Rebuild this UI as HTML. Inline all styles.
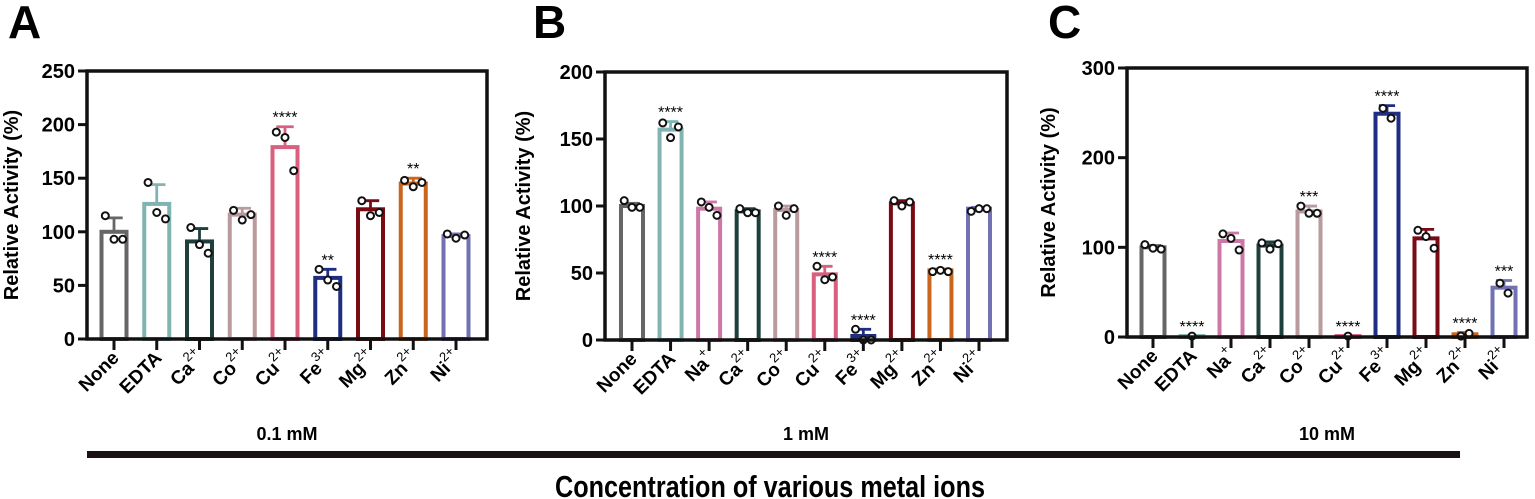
<!DOCTYPE html>
<html><head><meta charset="utf-8">
<style>
html,body{margin:0;padding:0;background:#fff;}
svg{display:block;font-family:"Liberation Sans",Arial,sans-serif;}
</style></head>
<body>
<svg id="fig" width="1535" height="499" viewBox="0 0 1535 499" xmlns="http://www.w3.org/2000/svg">
<g id="root"></g>
<rect x="87" y="451" width="1373" height="7" fill="#1a1212"/>
<text x="555" y="497" textLength="430" lengthAdjust="spacingAndGlyphs" font-size="31" font-weight="bold">Concentration of various metal ions</text>
</svg>
<script>
// ---- Data ----
const catsA = ["None","EDTA","Ca|2+","Co|2+","Cu|2+","Fe|3+","Mg|2+","Zn|2+","Ni|2+"];
const valsA = [100,126,91,116,179,57,121,145,96];
const errA  = [113,144,103,122,198,65,129,150,98];
const ptsA  = [[115,93,93],[146,118,112],[104,88,80],[120,111,116],[193,188,157],[65,55,49],[129,115,118],[148,142,146],[98,94,97]];
const starsA = ["","","","","****","**","","**",""];
const ticksA = [0,50,100,150,200,250];

const catsB = ["None","EDTA","Na|+","Ca|2+","Co|2+","Cu|2+","Fe|3+","Mg|2+","Zn|2+","Ni|2+"];
const valsB = [100,157,98,96,97,49,3,102,52,98];
const errB  = [102,163,103,98,100,55,8,104,53,99];
const ptsB  = [[104,99,99],[162,151,159],[103,99,93],[98,95,95],[100,93,98],[55,45,47],[8,0,0],[104,100,103],[51,52,51],[96,98,98]];
const starsB = ["","****","","","","****","****","","****",""];
const ticksB = [0,50,100,150,200];

const catsC = ["None","EDTA","Na|+","Ca|2+","Co|2+","Cu|2+","Fe|3+","Mg|2+","Zn|2+","Ni|2+"];
const valsC = [100,1,107,102,140,1,249,110,3,55];
const errC  = [102,1,116,106,146,1,258,120,5,63];
const ptsC  = [[103,99,98],[1],[115,110,97],[105,98,104],[146,138,138],[1],[255,244],[119,112,99],[1,4],[60,49]];
const starsC = ["","****","","","***","****","****","","****","***"];
const ticksC = [0,100,200,300];

const colorMap = {"None":"#666666","EDTA":"#80b4b2","Na":"#cc78a6","Ca":"#1e3f3b","Co":"#b99a9d","Cu":"#d8607e","Fe":"#1f2d83","Mg":"#7a0a13","Zn":"#c9651d","Ni":"#7271b3"};

const NS="http://www.w3.org/2000/svg";
const root=document.getElementById('root');
function mk(tag,attrs,parent){const e=document.createElementNS(NS,tag);for(const k in attrs)e.setAttribute(k,attrs[k]);(parent||root).appendChild(e);return e;}

function panel(o){
  const g=mk('g',{});
  
  
  const ymax=o.ticks[o.ticks.length-1];
  const y=v=>o.bottom-(v/ymax)*(o.bottom-o.top);
  const n=o.cats.length;
  const x=i=>o.c0+i*(o.c1-o.c0)/(n-1);
  const L=mk('text',{x:o.lx,y:38,'font-size':46,'font-weight':'bold'},g);L.textContent=o.letter;
  
  
  o.ticks.forEach(t=>{
    const ty=y(t);
    mk('line',{x1:o.left-9,x2:o.left,y1:ty,y2:ty,stroke:'#111','stroke-width':3},g);
    const tt=mk('text',{x:o.left-12,y:ty+7,'text-anchor':'end','font-size':20,'font-weight':'bold'},g);
    tt.textContent=t;
    
    
  });
  const yt=mk('text',{x:0,y:0,transform:`translate(${o.tx},${(o.top+o.bottom)/2}) rotate(-90)`,'text-anchor':'middle','font-size':20,'font-weight':'bold'},g);
  yt.textContent='Relative Activity (%)';
  
  
  const bw=o.bw;
  o.cats.forEach((c,i)=>{
    const [nm,sup]=c.split('|');
    const col=colorMap[nm];
    const cx=x(i);
    const v=o.vals[i], top=y(v);
    const r=mk('rect',{x:cx-bw/2+2,y:top,width:bw-4,height:Math.max(o.bottom-top,0.5),fill:'#fff',stroke:col,'stroke-width':4},g);
    
    
    const ey=y(o.err[i]);
    if(o.err[i]>v){
      mk('line',{x1:cx,x2:cx,y1:ey,y2:top,stroke:col,'stroke-width':2.8},g);
      mk('line',{x1:cx-bw*0.3,x2:cx+bw*0.3,y1:ey,y2:ey,stroke:col,'stroke-width':2.8},g);
    }
    const pts=o.pts[i];
    pts.forEach((p,j)=>{
      const off=pts.length===1?0:(j-(pts.length-1)/2)*bw*0.3;
      const d=mk('circle',{cx:cx+off,cy:y(p),r:3.5,fill:'#fff',stroke:'#111','stroke-width':2},g);
      
      
    });
    if(o.stars[i]){
      const s=mk('text',{x:cx,y:y(o.err[i])-4,'text-anchor':'middle','font-size':16},g);
      s.textContent=o.stars[i];
      
      
    }
    mk('line',{x1:cx,x2:cx,y1:o.bottom,y2:o.bottom+11,stroke:'#111','stroke-width':3},g);
    const lt=mk('text',{x:0,y:0,transform:`translate(${cx+6},${o.bottom+20}) rotate(-45)`,'text-anchor':'end','font-size':19,'font-weight':'bold'},g);
    
    
    if(sup){
      const a=document.createElementNS(NS,'tspan');a.textContent=nm;lt.appendChild(a);
      const b=document.createElementNS(NS,'tspan');b.setAttribute('dy','-10');b.setAttribute('font-size','13');b.setAttribute('font-weight','normal');b.textContent=sup;lt.appendChild(b);
      const z=document.createElementNS(NS,'tspan');z.setAttribute('dy','10');z.setAttribute('font-size','1');z.textContent=' ';lt.appendChild(z);
    } else lt.textContent=nm;
  });
  const fr=mk('rect',{x:o.left,y:o.top,width:o.right-o.left,height:o.bottom-o.top,fill:'none',stroke:'#111','stroke-width':3.5},g);
  
  
  const gl=mk('text',{x:(o.left+o.right)/2,y:440,'text-anchor':'middle','font-size':18,'font-weight':'bold'},g);
  gl.textContent=o.group;
  
  
}
panel({letter:'A',lx:8,left:87,right:487,top:71,bottom:339,c0:114,c1:456,bw:29,tx:18,cats:catsA,vals:valsA,err:errA,pts:ptsA,stars:starsA,ticks:ticksA,group:'0.1 mM'});
panel({letter:'B',lx:533,left:605,right:1007,top:72,bottom:340,c0:632,c1:979,bw:26,tx:530,cats:catsB,vals:valsB,err:errB,pts:ptsB,stars:starsB,ticks:ticksB,group:'1 mM'});
panel({letter:'C',lx:1048,left:1127,right:1527,top:68,bottom:337,c0:1153,c1:1504,bw:27,tx:1055,cats:catsC,vals:valsC,err:errC,pts:ptsC,stars:starsC,ticks:ticksC,group:'10 mM'});
</script>
</body></html>
